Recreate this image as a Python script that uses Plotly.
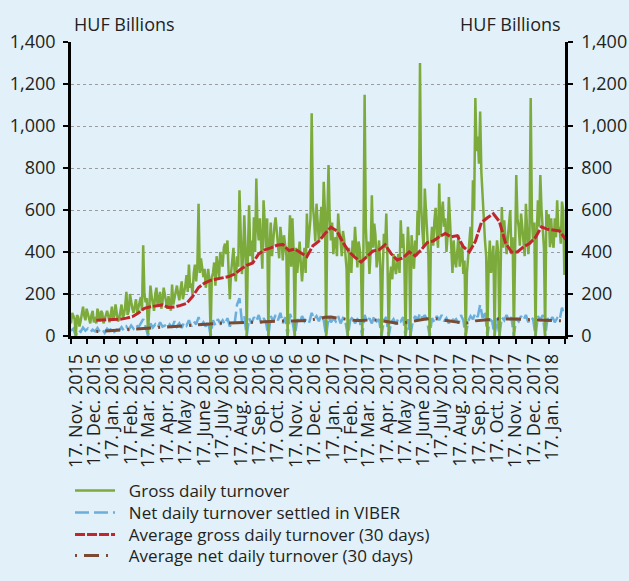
import pandas as pd
import plotly.graph_objects as go

# gross daily turnover, read every 2 days from 9 Nov 2015 (HUF bn)
gross = [60, 110, 95, 80, 0, 100, 90, 45, 70, 100, 140, 95, 75, 130, 105, 85, 60, 100, 120, 65,
         90, 60, 130, 100, 70, 120, 110, 60, 85, 100, 120, 95, 65, 100, 140, 80, 95, 150, 115, 70,
         80, 110, 150, 90, 100, 140, 210, 100, 120, 200, 160, 130, 110, 150, 175, 110, 130, 160, 185, 120,
         432, 200, 160, 180, 10, 130, 240, 190, 150, 120, 200, 230, 140, 170, 210, 130, 160, 230, 190, 170,
         130, 190, 150, 120, 245, 150, 180, 210, 240, 200, 170, 220, 260, 175, 200, 240, 290, 210, 340, 230,
         250, 200, 300, 340, 260, 330, 630, 300, 370, 320, 280, 320, 230, 270, 320, 260, 0, 280, 300, 350,
         240, 380, 310, 280, 400, 360, 330, 420, 440, 390, 455, 300, 175, 300, 360, 420, 300, 260, 380, 330,
         694, 420, 295, 380, 575, 420, 0, 400, 622, 380, 455, 350, 565, 400, 750, 520, 455, 560, 390, 320,
         646, 500, 420, 560, 0, 430, 540, 380, 460, 520, 565, 480, 430, 370, 520, 460, 360, 480, 420, 380,
         0, 420, 575, 330, 560, 400, 0, 420, 300, 380, 450, 340, 260, 350, 420, 300, 583, 420, 480, 560,
         1061, 620, 550, 450, 630, 560, 450, 520, 615, 480, 734, 600, 0, 560, 814, 560, 455, 540, 390, 460,
         470, 380, 583, 500, 455, 380, 500, 460, 380, 320, 0, 420, 360, 300, 455, 380, 520, 430, 327, 450,
         410, 330, 0, 420, 1149, 520, 375, 450, 295, 400, 670, 420, 535, 480, 327, 380, 455, 330, 0, 300,
         487, 420, 583, 350, 0, 280, 330, 270, 390, 340, 295, 340, 390, 300, 551, 420, 487, 360, 0, 350,
         520, 400, 0, 480, 390, 320, 455, 380, 598, 480, 1300, 620, 500, 420, 702, 600, 455, 380, 0, 430,
         520, 430, 551, 610, 487, 420, 726, 470, 583, 640, 520, 560, 400, 480, 662, 520, 390, 300, 455, 360,
         327, 400, 480, 330, 390, 440, 295, 360, 0, 300, 375, 450, 520, 420, 742, 600, 1133, 880, 950, 820,
         1069, 780, 646, 560, 455, 380, 0, 330, 455, 300, 390, 430, 0, 360, 455, 400, 0, 380, 614, 420,
         551, 460, 390, 470, 520, 600, 390, 470, 0, 420, 766, 560, 520, 430, 583, 520, 455, 380, 630, 520,
         390, 470, 1133, 560, 455, 540, 0, 480, 646, 520, 766, 600, 520, 420, 0, 600, 520, 580, 423, 560,
         455, 420, 560, 470, 646, 500, 520, 440, 640, 600, 290]

# net daily turnover settled in VIBER, read every 4 days from 9 Nov 2015
net = [25, 35, 0, 30, 20, 40, 25, 35, 18, 30,
       22, 38, 20, 32, 15, 35, 25, 40, 20, 30,
       28, 42, 25, 45, 30, 50, 35, 55, 40, 60,
       80, 45, 0, 60, 40, 55, 38, 65, 45, 50,
       35, 55, 40, 70, 45, 60, 38, 65, 50, 75,
       45, 70, 55, 90, 50, 65, 45, 70, 0, 75,
       50, 80, 60, 75, 55, 85, 45, 70, 60, 150,
       180, 70, 95, 0, 85, 60, 90, 70, 100, 60,
       85, 65, 0, 95, 70, 100, 75, 110, 60, 90,
       0, 105, 70, 0, 80, 60, 95, 70, 85, 65,
       110, 80, 95, 70, 100, 75, 0, 90, 65, 85,
       70, 95, 60, 85, 70, 0, 75, 90, 60, 80,
       70, 0, 100, 65, 85, 60, 95, 70, 80, 0,
       75, 90, 0, 65, 80, 55, 85, 70, 90, 0,
       80, 0, 70, 95, 75, 110, 80, 100, 70, 0,
       85, 65, 95, 75, 100, 70, 85, 60, 90, 70,
       80, 60, 100, 75, 0, 70, 95, 80, 110, 90,
       150, 85, 120, 0, 80, 70, 0, 85, 0, 90,
       75, 100, 65, 90, 0, 85, 70, 95, 75, 100,
       65, 90, 80, 0, 95, 75, 100, 0, 85, 70,
       90, 65, 85, 75, 135, 95]

# 30-day averages, read every 10 days from 21 Dec 2015
avg_gross = [75, 76, 78, 80, 80, 85, 92, 110, 132, 139,
             143, 148, 136, 138, 146, 155, 188, 231, 252, 265,
             271, 277, 283, 295, 318, 336, 348, 391, 410, 420,
             432, 436, 407, 414, 395, 378, 430, 452, 487, 518,
             500, 445, 402, 374, 352, 380, 405, 410, 435, 392,
             362, 372, 400, 382, 410, 445, 452, 472, 488, 472,
             478, 425, 400, 450, 540, 563, 582, 545, 445, 400,
             400, 425, 440, 470, 520, 508, 503, 500, 460]

avg_net = [21, 23, 25, 27, 29, 31, 33, 35, 38, 40,
           42, 44, 45, 47, 49, 51, 53, 55, 56, 58,
           59, 61, 62, 63, 65, 66, 67, 69, 71, 72,
           73, 74, 72, 71, 72, 74, 78, 84, 89, 90,
           86, 80, 76, 74, 74, 76, 77, 75, 70, 65,
           61, 62, 67, 74, 78, 82, 84, 80, 77, 72,
           66, 61, 63, 72, 75, 79, 82, 82, 81, 82,
           81, 79, 78, 77, 75, 74, 74, 73, 72]

gross_dates = pd.date_range("2015-11-09", periods=len(gross), freq="2D")
net_dates = pd.date_range("2015-11-09", periods=len(net), freq="4D")
avg_dates = pd.date_range("2015-12-21", periods=len(avg_gross), freq="10D")

label_dates = pd.date_range("2015-11-01", "2018-01-01", freq="MS") + pd.Timedelta(days=16)
month_names = ["Jan.", "Feb.", "Mar.", "Apr.", "May", "June", "July",
               "Aug.", "Sep.", "Oct.", "Nov.", "Dec."]
labels = ["17. %s %d" % (month_names[d.month - 1], d.year) for d in label_dates]

x_start, x_end = "2015-11-09", "2018-02-07"
tick_marks = pd.date_range(x_start, x_end, periods=31)

font = "Open Sans, Noto Sans, sans-serif"
bg = "#e1f0f9"
ink = "#231f20"
sp = "\u00a0\u00a0"

fig = go.Figure()
fig.add_trace(go.Scatter(x=net_dates, y=net, name=sp + "Net daily turnover settled in VIBER",
                         mode="lines", line=dict(color="#6aaedb", width=2.5, dash="14px,5px"),
                         legend="legend2"))
fig.add_trace(go.Scatter(x=gross_dates, y=gross, name=sp + "Gross daily turnover",
                         mode="lines", line=dict(color="#7dab3b", width=2.5),
                         legend="legend"))
fig.add_trace(go.Scatter(x=avg_dates, y=avg_gross, name=sp + "Average gross daily turnover (30 days)",
                         mode="lines", line=dict(color="#c0272d", width=3, dash="10px,2px"),
                         legend="legend3"))
fig.add_trace(go.Scatter(x=avg_dates, y=avg_net, name=sp + "Average net daily turnover (30 days)",
                         mode="lines", line=dict(color="#7a4a32", width=3, dash="2px,7px,15px,7px"),
                         legend="legend4", yaxis="y2"))

yax = dict(range=[0, 1400], dtick=200, tickformat=",", showline=True, linecolor="black",
           linewidth=2.5, ticks="outside", ticklen=5, tickwidth=2, tickcolor="black",
           tickfont=dict(size=18, color=ink), zeroline=False, automargin=False)

# one legend per row so the rows can sit as close as in the original
leg = dict(x=-0.002, xanchor="left", yanchor="middle",
           bgcolor="rgba(0,0,0,0)", font=dict(size=17, color=ink), itemwidth=40)

fig.update_layout(
    width=629, height=581,
    margin=dict(l=71, r=64, t=42, b=245, autoexpand=False),
    paper_bgcolor=bg, plot_bgcolor=bg,
    font=dict(family=font, color=ink),
    showlegend=True,
    xaxis=dict(range=[x_start, x_end], tickmode="array", tickvals=label_dates, ticktext=labels,
               tickangle=-90, ticks="", tickfont=dict(size=18, color=ink),
               showline=True, linecolor="black", linewidth=2.5, showgrid=False, zeroline=False,
               ticklabelstandoff=8, automargin=False,
               minor=dict(tickmode="array", tickvals=tick_marks, ticks="outside", ticklen=5,
                          tickwidth=2, tickcolor="black", showgrid=False)),
    yaxis=dict(yax, showgrid=True, gridcolor="#9b9b9b", griddash="dot", gridwidth=1.3,
               ticklabelstandoff=4),
    yaxis2=dict(yax, overlaying="y", side="right", showgrid=False, ticklabelstandoff=5),
    legend=dict(leg, y=-0.5272),
    legend2=dict(leg, y=-0.6020),
    legend3=dict(leg, y=-0.6769),
    legend4=dict(leg, y=-0.7483),
    annotations=[
        dict(text="HUF Billions", xref="paper", yref="paper", x=0.003, y=1.062,
             xanchor="left", yanchor="middle", showarrow=False, font=dict(size=18, color=ink)),
        dict(text="HUF Billions", xref="paper", yref="paper", x=0.996, y=1.062,
             xanchor="right", yanchor="middle", showarrow=False, font=dict(size=18, color=ink)),
    ],
)

fig.write_html("out.html", config={"displayModeBar": False},
               post_script="document.body.style.margin='0';document.body.style.overflow='hidden';")
